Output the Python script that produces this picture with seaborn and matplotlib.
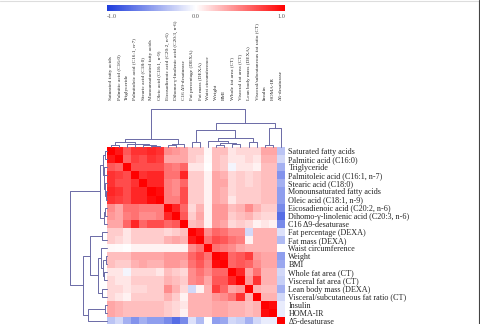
#!/usr/bin/env python
# coding: utf8

""" Correlation heatmap with dendrograms. """

import numpy as np
import pandas as pd
import seaborn as sns
from matplotlib import pyplot as plt
from matplotlib.colors import LinearSegmentedColormap
from matplotlib.lines import Line2D

# variables, in leaf order
labels = [
    'Saturated fatty acids', 'Palmitic acid (C16:0)', 'Triglyceride',
    'Palmitoleic acid (C16:1, n-7)', 'Stearic acid (C18:0)',
    'Monounsaturated fatty acids', 'Oleic acid (C18:1, n-9)',
    'Eicosadienoic acid (C20:2, n-6)', 'Dihomo-\u03b3-linolenic acid (C20:3, n-6)',
    'C16 \u03949-desaturase', 'Fat percentage (DEXA)', 'Fat mass (DEXA)',
    'Waist circumference', 'Weight', 'BMI', 'Whole fat area (CT)',
    'Visceral fat area (CT)', 'Lean body mass (DEXA)',
    'Visceral/subcutaneous fat ratio (CT)', 'Insulin', 'HOMA-IR',
    '\u03945-desaturase',
]

# upper triangle of the correlation matrix, row i holds columns i+1 .. 21
upper = [
    [.9, .65, .8, .8, .85, .8, .45, .4, .35, .2, .2, .03, .25, .25, .1, .15, .15, .15, .35, .35, -.3],
    [.6, .75, .7, .8, .75, .35, .35, .35, .2, .15, .02, .25, .2, .1, .1, .15, .1, .3, .3, -.2],
    [.7, .7, .7, .7, .55, .5, .6, .1, .1, 0, .25, .2, -.05, .1, .1, .05, .25, .25, -.4],
    [.8, .85, .85, .55, .55, .85, .2, .2, .05, .35, .3, .15, .2, .15, .2, .25, .25, -.55],
    [.85, .85, .5, .45, .6, .2, .2, .05, .35, .35, .15, .2, .15, .2, .25, .25, -.4],
    [.95, .5, .45, .7, .2, .2, .05, .35, .3, .15, .2, .2, .2, .25, .25, -.5],
    [.5, .5, .7, .2, .2, .05, .35, .3, .1, .2, .2, .2, .25, .25, -.5],
    [.85, .6, .15, .3, .05, .4, .4, .25, .3, .45, .3, .2, .2, -.6],
    [.65, .2, .35, .05, .4, .4, .2, .25, .3, .2, .15, .15, -.75],
    [.25, .3, .05, .4, .35, .15, .2, .15, .05, .1, .05, -.6],
    [.9, .45, .6, .55, .45, .45, -.2, .3, .3, .3, -.15],
    [.55, .7, .65, .55, .5, .05, .3, .3, .3, -.35],
    [.55, .5, .45, .35, .3, .3, .3, .3, 0],
    [.95, .6, .65, .75, .4, .35, .35, -.5],
    [.6, .65, .6, .45, .35, .35, -.45],
    [.85, .35, .55, .3, .3, -.2],
    [.4, .8, .3, .3, -.25],
    [.3, .25, .25, -.4],
    [.3, .3, -.2],
    [.95, -.1],
    [-.1],
]

# merges (left, right, height relative to root); leaves are 0..21, new nodes 22..
merges = [
    (5, 6, .03), (4, 22, .05), (3, 23, .07), (2, 24, .09), (0, 1, .06),
    (26, 25, .12), (7, 8, .05), (28, 9, .09), (27, 29, .2),
    (10, 11, .125), (13, 14, .04), (15, 16, .07), (32, 33, .1), (12, 34, .16),
    (17, 18, .14), (35, 36, .25), (31, 37, .45), (19, 20, .06), (39, 21, .51),
    (38, 40, .645), (30, 41, 1.0),
]

n = len(labels)
corr = np.eye(n)
for i, row in enumerate(upper):
    for k, v in enumerate(row):
        corr[i, i + 1 + k] = v
        corr[i + 1 + k, i] = v
df = pd.DataFrame(corr, index=labels, columns=labels)

W, H = 481, 324
sns.set_theme(style='white')
plt.rcParams['font.family'] = ['Liberation Serif', 'DejaVu Serif']

fig = plt.figure(figsize=(W / 100, H / 100), dpi=100)

def fax(x0, y0, x1, y1):
    # axes from pixel box (top-left origin)
    return fig.add_axes([x0 / W, 1 - y1 / H, (x1 - x0) / W, (y1 - y0) / H])

hm_l, hm_t, cell = 107, 147, 8.09
hm_r, hm_b = hm_l + n * cell, hm_t + n * cell
ax = fax(hm_l, hm_t, hm_r, hm_b)
cax = fax(hm_l, 5, hm_r, 11)
ax_top = fax(hm_l, 109.3, hm_r, hm_t)
ax_left = fax(70, hm_t, hm_l, hm_b)

cmap = LinearSegmentedColormap.from_list('bwr2', ['#1e3cdc', '#ffffff', '#ff0000'])
sns.heatmap(df, ax=ax, cmap=cmap, vmin=-1, vmax=1, cbar_ax=cax,
            cbar_kws={'orientation': 'horizontal'},
            xticklabels=True, yticklabels=True)

ax.xaxis.tick_top()
ax.yaxis.tick_right()
ax.tick_params(axis='x', length=0, pad=33.5, labelsize=3.8, labelrotation=90)
ax.tick_params(axis='y', length=0, pad=2.5, labelsize=5.9, labelrotation=0)
for t in ax.get_xticklabels():
    t.set_va('bottom')
    t.set_ha('center')
ax.set_xlabel('')
ax.set_ylabel('')

# colour bar
cbar = ax.collections[0].colorbar
cbar.outline.set_visible(False)
cax.set_xticks([-1, 0, 1])
cax.set_xticklabels(['-1.0', '0.0', '1.0'])
cax.tick_params(length=0, pad=2, labelsize=4.5, labelcolor='#555555')
tl = cax.get_xticklabels()
tl[0].set_ha('left')
tl[2].set_ha('right')

# dendrograms
pos = {i: i + 0.5 for i in range(n)}
hgt = {i: 0.0 for i in range(n)}
for k, (a, b, h) in enumerate(merges):
    pos[n + k] = (pos[a] + pos[b]) / 2
    hgt[n + k] = h

dcol = '#6a6aa6'
for a, b, h in merges:
    xs = [pos[a], pos[a], pos[b], pos[b]]
    ys = [hgt[a], h, h, hgt[b]]
    ax_top.plot(xs, ys, color=dcol, lw=0.7, clip_on=False)
    ax_left.plot(ys, xs, color=dcol, lw=0.7, clip_on=False)

ax_top.set_xlim(0, n)
ax_top.set_ylim(0, 1)
ax_left.set_ylim(n, 0)
ax_left.set_xlim(1, 0)
for a in (ax_top, ax_left):
    a.axis('off')

# frame of the picture
fig.add_artist(Line2D([0, 1], [1 - 1 / H, 1 - 1 / H], transform=fig.transFigure,
                      color='#dddddd', lw=0.8))
fig.add_artist(Line2D([1 - 2 / W, 1 - 2 / W], [0, 1], transform=fig.transFigure,
                      color='#444444', lw=0.8))

plt.savefig('out.png', dpi=100)
plt.close()
